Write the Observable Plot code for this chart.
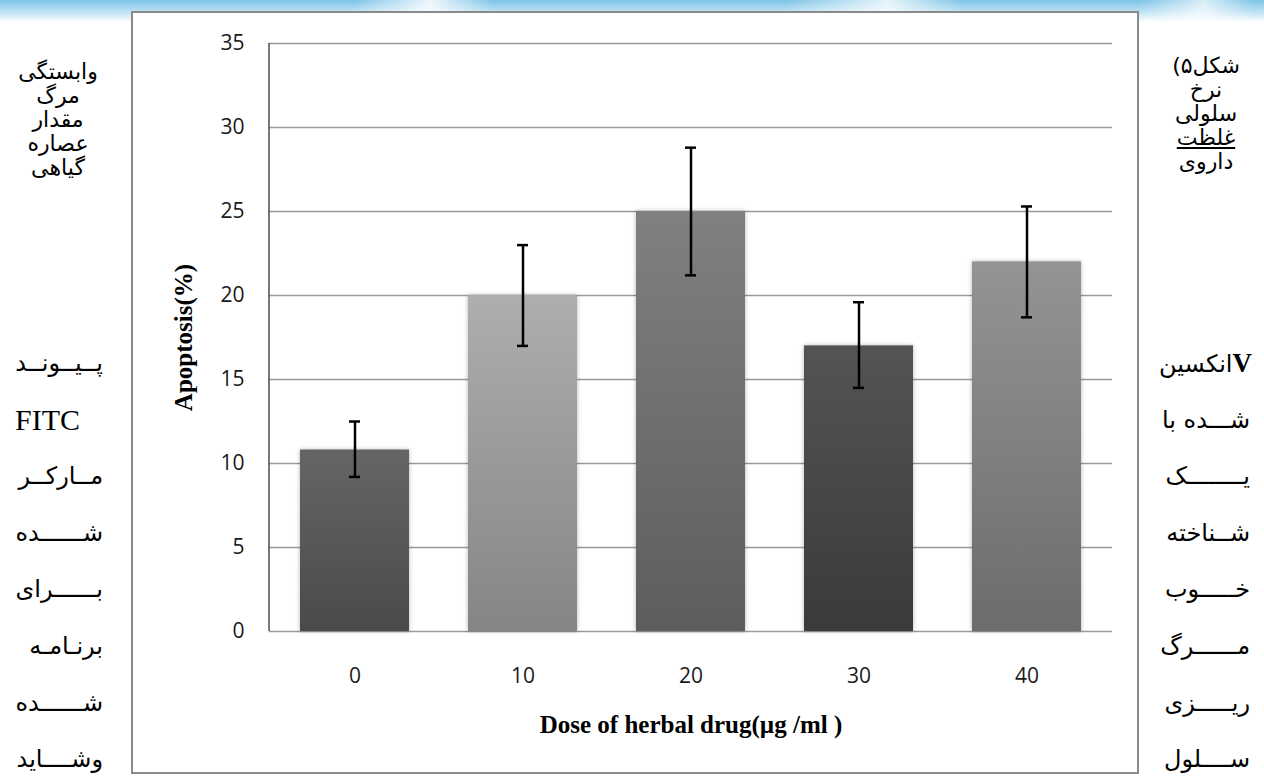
<!DOCTYPE html>
<html>
<head>
<meta charset="utf-8">
<script src="https://cdn.jsdelivr.net/npm/d3@7"></script>
<script src="https://cdn.jsdelivr.net/npm/@observablehq/plot@0.6"></script>
<style>
html, body { margin: 0; padding: 0; background: #fff; }
body { width: 1264px; height: 776px; overflow: hidden; position: relative; font-family: "DejaVu Sans", sans-serif; }
#swoosh { position: absolute; left: 0; top: 0; width: 1264px; height: 22px;
  background:
    linear-gradient(100deg, rgba(255,255,255,0) 28%, rgba(255,255,255,0.85) 34%, rgba(255,255,255,0) 39%, rgba(255,255,255,0) 62%, rgba(255,255,255,0.8) 70%, rgba(255,255,255,0) 76%, rgba(255,255,255,0) 90%, rgba(255,255,255,0.7) 95%, rgba(255,255,255,0) 99%),
    linear-gradient(180deg, #7cc3e6 0%, #bfe3f4 55%, #ffffff 100%); }
#frame { position: absolute; left: 131px; top: 11px; width: 1004px; height: 759px; border: 2px solid #8a8a8a; background: #fff; }
#chart { position: absolute; left: 0; top: 0; }
.ln { position: absolute; white-space: nowrap; color: #000; line-height: 32px; height: 32px; }
.top { font-size: 22px; text-align: center; width: 124px; line-height: 24px; height: 24px; }
.bot { font-size: 24px; }
.serif { font-family: "Liberation Serif", serif; }
</style>
</head>
<body>
<div id="swoosh"></div>
<div id="frame"><div id="chart"></div></div>
<script>
// ---- data ----
const doses = ["0", "10", "20", "30", "40"];
const apoptosis = [10.8, 20.0, 25.0, 17.0, 22.0];
const errLow = [9.2, 17.0, 21.2, 14.5, 18.7];
const errHigh = [12.5, 23.0, 28.8, 19.6, 25.3];
const yTicks = [0, 5, 10, 15, 20, 25, 30, 35];
const xTitle = "Dose of herbal drug(µg /ml )";
const yTitle = "Apoptosis(%)";

const leftTop = ["وابستگی", "مرگ", "مقدار", "عصاره", "گیاهی"];
const rightTop = ["شکل۵)", "نرخ", "سلولی", "غلظت", "داروی"];
const leftBottom = ["پ|ی|ون|د", "FITC", "م|ارک|ر", "ش|ده", "ب|رای", "برن|ام|ه", "ش|ده", "وش|اید"];
const rightBottom = ["Vانکسین", "ش|ده با", "ی|ک", "ش|ناخته", "خ|وب", "م|رگ", "ری|زی", "س|لول"];

// ---- styles ----
const topShade = ["#656565", "#aeaeae", "#808080", "#545454", "#949494"];
const bottomShade = ["#4a4a4a", "#858585", "#5d5d5d", "#3a3a3a", "#6c6c6c"];

const data = doses.map((dose, i) => ({dose, value: apoptosis[i], lo: errLow[i], hi: errHigh[i], i}));

function extras(...args) {
  const dims = args.find(a => a && a.marginLeft !== undefined);
  const g = d3.create("svg:g");
  const defs = g.append("defs");
  doses.forEach((d, i) => {
    const lg = defs.append("linearGradient").attr("id", "bar" + i)
      .attr("x1", 0).attr("y1", 0).attr("x2", 0).attr("y2", 1);
    lg.append("stop").attr("offset", "0%").attr("stop-color", topShade[i]);
    lg.append("stop").attr("offset", "100%").attr("stop-color", bottomShade[i]);
  });
  g.append("line")
    .attr("x1", dims.marginLeft).attr("x2", dims.marginLeft)
    .attr("y1", dims.marginTop).attr("y2", dims.height - dims.marginBottom)
    .attr("stroke", "#4d4d4d").attr("stroke-width", 1.5);
  return g.node();
}

const chart = Plot.plot({
  width: 1004,
  height: 759,
  marginLeft: 136,
  marginRight: 25,
  marginTop: 30,
  marginBottom: 141,
  style: {fontFamily: "'Open Sans', sans-serif", fontSize: "21px", color: "#1a1a1a", background: "transparent", overflow: "visible"},
  x: {type: "band", domain: doses, paddingInner: 0.35, paddingOuter: 0.175, label: null},
  y: {domain: [0, 35], label: null},
  color: {type: "identity"},
  marks: [
    Plot.gridY(yTicks, {stroke: "#9a9a9a", strokeOpacity: 1, strokeWidth: 1.6}),
    Plot.barY(data, {x: "dose", y: "value", fill: d => "url(#bar" + d.i + ")"}),
    Plot.ruleX(data, {x: "dose", y1: "lo", y2: "hi", stroke: "#000", strokeWidth: 2.5}),
    Plot.tickY(data, {x: "dose", y: "lo", stroke: "#000", strokeWidth: 2.5, insetLeft: 49, insetRight: 49}),
    Plot.tickY(data, {x: "dose", y: "hi", stroke: "#000", strokeWidth: 2.5, insetLeft: 49, insetRight: 49}),
    Plot.axisY({ticks: yTicks, tickSize: 0, tickPadding: 25, label: null}),
    Plot.axisX({tickSize: 0, tickPadding: 37, label: null}),
    Plot.text([xTitle], {frameAnchor: "bottom", dy: 93, lineAnchor: "middle", fontFamily: "'Liberation Serif', serif", fontWeight: "bold", fontSize: 25, fill: "#000"}),
    Plot.text([yTitle], {frameAnchor: "left", dx: -86, rotate: -90, lineAnchor: "middle", textAnchor: "middle", fontFamily: "'Liberation Serif', serif", fontWeight: "bold", fontSize: 25, fill: "#000"}),
    extras
  ]
});
document.getElementById("chart").appendChild(chart);
// soft shadow around the bars
chart.querySelectorAll('rect[fill^="url"]').forEach(r => {
  r.style.filter = "drop-shadow(0px 0px 2px rgba(0,0,0,0.3))";
});

// ---- side text columns ----
const T = "\u0640";
function addLine(text, cls, css) {
  const el = document.createElement("div");
  el.className = "ln " + cls;
  Object.assign(el.style, css);
  el.textContent = text;
  document.body.appendChild(el);
  return el;
}
function fit(el, src, target) {
  let best = 0, bestDiff = Infinity;
  for (let n = 0; n < 30; n++) {
    el.textContent = src.split("|").join(T.repeat(n));
    const w = el.getBoundingClientRect().width;
    const diff = Math.abs(w - target);
    if (diff < bestDiff) { bestDiff = diff; best = n; }
    if (w > target) break;
  }
  el.textContent = src.split("|").join(T.repeat(best));
}

const topYLeft = [72, 96, 120, 144, 168];
const topYRight = [66, 90, 114, 138, 162];
leftTop.forEach((t, i) => {
  addLine(t, "top", {left: "-4px", top: (topYLeft[i] - 12) + "px", direction: "rtl"});
});
rightTop.forEach((t, i) => {
  const el = addLine(t, "top", {left: "1144px", top: (topYRight[i] - 12) + "px", direction: "rtl"});
  if (i === 3) el.style.textDecoration = "underline";
});

const botY = d => 363 + d * 56.6;
const leftTargets = [88, null, 88, 88, 88, 75, 88, 88];
leftBottom.forEach((t, i) => {
  if (t === "FITC") {
    addLine(t, "bot serif", {left: "15px", top: (botY(i) - 16) + "px", fontSize: "30px", direction: "ltr"});
  } else {
    const el = addLine(t, "bot", {right: (1264 - 103) + "px", top: (botY(i) - 16) + "px", direction: "rtl", display: "inline-block"});
    fit(el, t, leftTargets[i]);
  }
});
rightBottom.forEach((t, i) => {
  if (t.startsWith("V")) {
    const el = addLine("", "bot", {right: "12px", top: (botY(i) - 16) + "px", direction: "rtl"});
    const v = document.createElement("span");
    v.className = "serif"; v.style.fontWeight = "bold"; v.style.fontSize = "27px"; v.textContent = "V";
    const rest = document.createElement("span"); rest.textContent = t.slice(1);
    el.appendChild(v); el.appendChild(rest);
  } else {
    const el = addLine(t, "bot", {right: "14px", top: (botY(i) - 16) + "px", direction: "rtl", display: "inline-block"});
    fit(el, t, 87);
  }
});
</script>
</body>
</html>
